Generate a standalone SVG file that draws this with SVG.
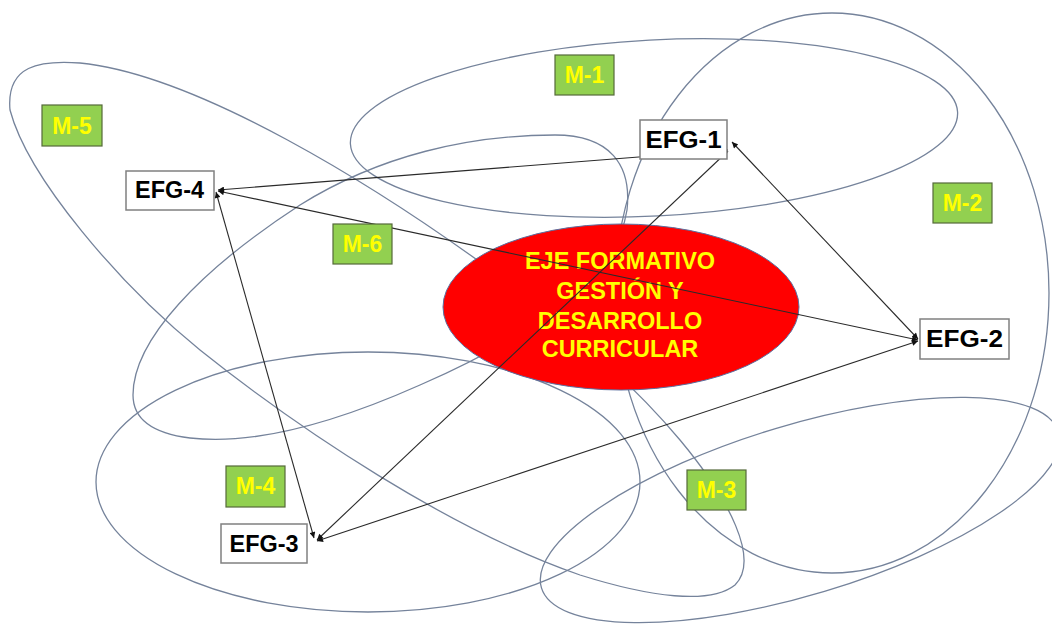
<svg xmlns="http://www.w3.org/2000/svg" width="1052" height="627" viewBox="0 0 1052 627">
<style>
.loop{fill:none;stroke:#75839b;stroke-width:1.3}
.con{fill:none;stroke:#2a2a2a;stroke-width:1.1;marker-start:url(#ah);marker-end:url(#ah)}
.efg rect{fill:#fff;stroke:#808080;stroke-width:1.5}
.efg text{font-family:"Liberation Sans",Arial,sans-serif;font-weight:bold;font-size:23px;fill:#000;text-anchor:middle}
.mod rect{fill:#92D050;stroke:#55693a;stroke-width:1.2}
.mod text{font-family:"Liberation Sans",Arial,sans-serif;font-weight:bold;font-size:23px;fill:#FFFF00;text-anchor:middle}
.core text{font-family:"Liberation Sans",Arial,sans-serif;font-weight:bold;font-size:23.5px;fill:#FFFF00;text-anchor:middle}
</style>
<defs>
<marker id="ah" viewBox="0 0 10 10" refX="10" refY="5" markerUnits="userSpaceOnUse" markerWidth="7" markerHeight="6" orient="auto-start-reverse">
<path d="M0,0 L10,5 L0,10 Z" fill="#111"/>
</marker>
</defs>
<rect width="1052" height="627" fill="#fff"/>
<g id="loops">
<ellipse id="loop-m1" class="loop" cx="654" cy="128" rx="304" ry="88" transform="rotate(-3 654 128)"/>
<ellipse id="loop-m2" class="loop" cx="832" cy="293" rx="217" ry="280"/>
<ellipse id="loop-m3" class="loop" cx="800" cy="510" rx="270" ry="85" transform="rotate(-16.75 800 510)"/>
<ellipse id="loop-m4" class="loop" cx="368" cy="482" rx="272" ry="130"/>
<path id="loop-m5" class="loop" d="M10,110 C6,65 40,60 80,63 C200,75 380,190 480,262 C560,320 630,380 680,440 C730,500 760,560 735,585 C710,605 650,597 580,575 C450,530 300,430 200,350 C120,285 28,178 10,110 Z"/>
<path id="loop-m6" class="loop" d="M133,395 C133,340 200,270 300,205 C380,155 470,135 555,135 C610,135 632,165 627,210 C615,290 500,350 420,385 C330,425 250,445 190,438 C150,433 133,418 133,395 Z"/>
</g>
<g id="core" class="core">
<ellipse cx="621" cy="307" rx="178" ry="83" fill="#FF0000" stroke="#5a6fa0" stroke-width="1"/>
<text x="620" y="269">EJE FORMATIVO</text>
<text x="620" y="299">GESTIÓN Y</text>
<text x="620" y="329">DESARROLLO</text>
<text x="620" y="357">CURRICULAR</text>
</g>
<g id="connectors">
<line class="con" x1="218" y1="190" x2="728" y2="150"/>
<line class="con" x1="218" y1="191" x2="918" y2="340"/>
<line class="con" x1="216" y1="192" x2="314" y2="538"/>
<line class="con" x1="317" y1="540" x2="728" y2="151"/>
<line class="con" x1="317" y1="541" x2="918" y2="341"/>
<line class="con" x1="732" y1="142" x2="918" y2="339"/>
</g>
<g id="efg-1" class="efg"><rect x="640" y="120" width="87" height="39"/><text x="683.5" y="148" textLength="76" lengthAdjust="spacingAndGlyphs">EFG-1</text></g>
<g id="efg-2" class="efg"><rect x="920" y="319" width="89" height="40"/><text x="964.5" y="347" textLength="77" lengthAdjust="spacingAndGlyphs">EFG-2</text></g>
<g id="efg-3" class="efg"><rect x="221" y="524" width="86" height="39"/><text x="264" y="552" textLength="69" lengthAdjust="spacingAndGlyphs">EFG-3</text></g>
<g id="efg-4" class="efg"><rect x="126" y="171" width="88" height="39"/><text x="169.5" y="198" textLength="69" lengthAdjust="spacingAndGlyphs">EFG-4</text></g>
<g id="m-1" class="mod"><rect x="555" y="55" width="59" height="40"/><text x="584.5" y="83">M-1</text></g>
<g id="m-2" class="mod"><rect x="933" y="183" width="59" height="40"/><text x="962.5" y="211">M-2</text></g>
<g id="m-3" class="mod"><rect x="687" y="470" width="59" height="40"/><text x="716.5" y="498">M-3</text></g>
<g id="m-4" class="mod"><rect x="226" y="466" width="59" height="41"/><text x="255.5" y="494">M-4</text></g>
<g id="m-5" class="mod"><rect x="42" y="105" width="60" height="41"/><text x="72" y="134">M-5</text></g>
<g id="m-6" class="mod"><rect x="333" y="224" width="59" height="40"/><text x="362.5" y="252">M-6</text></g>
</svg>
